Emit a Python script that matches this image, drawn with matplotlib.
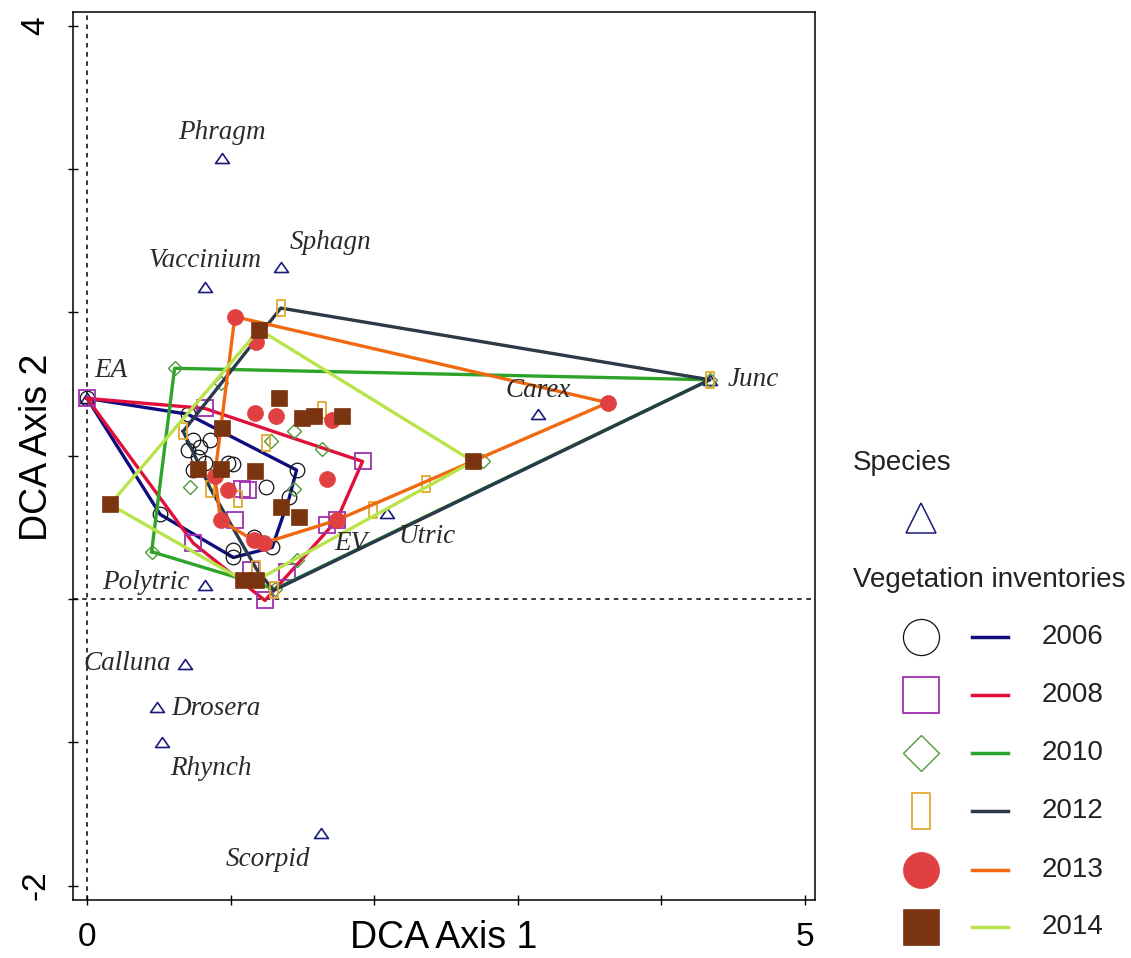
import numpy as np
import matplotlib
matplotlib.use("Agg")
import matplotlib.pyplot as plt
from matplotlib.path import Path

# ---------------------------------------------------------------- data
species_names = ["Phragm", "Sphagn", "Vaccinium", "EA", "Junc", "Carex", "Utric",
                 "EV", "Polytric", "Calluna", "Drosera", "Rhynch", "Scorpid"]
species_x = [0.94, 1.35, 0.82, 0.00, 4.34, 3.14, 2.09, 1.74, 0.82, 0.68, 0.49, 0.52, 1.63]
species_y = [3.08, 2.32, 2.18, 1.40, 1.53, 1.29, 0.60, 0.55, 0.10, -0.45, -0.75, -1.00, -1.63]

years = ["2006", "2008", "2010", "2012", "2013", "2014"]

x_2006 = [0.00, 0.70, 0.74, 0.79, 0.70, 0.77, 0.74, 0.82, 0.86, 0.98, 1.02, 1.25,
          1.46, 1.41, 0.51, 1.16, 1.02, 1.02, 1.29]
y_2006 = [1.40, 1.29, 1.11, 1.06, 1.04, 0.99, 0.90, 0.95, 1.11, 0.95, 0.94, 0.78,
          0.90, 0.71, 0.59, 0.43, 0.34, 0.29, 0.36]

x_2008 = [0.00, 0.82, 1.92, 1.74, 1.67, 1.39, 1.24, 0.74, 1.08, 1.12, 1.03, 1.14]
y_2008 = [1.40, 1.33, 0.96, 0.55, 0.52, 0.19, -0.01, 0.39, 0.77, 0.76, 0.55, 0.20]

x_2010 = [0.61, 4.34, 1.31, 0.45, 0.93, 1.44, 1.64, 1.28, 0.72, 1.44, 1.46, 2.76]
y_2010 = [1.61, 1.53, 0.07, 0.33, 1.51, 1.17, 1.05, 1.10, 0.78, 0.77, 0.27, 0.96]

x_2012 = [1.35, 4.34, 1.30, 1.18, 0.67, 0.86, 1.25, 1.05, 1.64, 1.99, 2.36]
y_2012 = [2.03, 1.53, 0.06, 0.21, 1.17, 0.77, 1.09, 0.70, 1.32, 0.62, 0.80]

x_2013 = [1.03, 1.18, 3.63, 1.74, 1.23, 1.16, 0.93, 0.89, 0.98, 1.17, 1.32, 1.71, 1.67]
y_2013 = [1.97, 1.79, 1.37, 0.55, 0.39, 0.41, 0.55, 0.86, 0.76, 1.30, 1.28, 1.25, 0.84]

x_2014 = [1.20, 1.34, 0.94, 1.50, 1.58, 1.78, 0.77, 0.93, 1.17, 1.35, 1.48, 1.09,
          1.18, 2.69, 0.16]
y_2014 = [1.88, 1.40, 1.19, 1.26, 1.28, 1.28, 0.91, 0.91, 0.89, 0.64, 0.57, 0.13,
          0.13, 0.96, 0.66]

site_x = [x_2006, x_2008, x_2010, x_2012, x_2013, x_2014]
site_y = [y_2006, y_2008, y_2010, y_2012, y_2013, y_2014]

# ---------------------------------------------------------------- styles
plt.rcParams["font.family"] = ["Liberation Sans", "DejaVu Sans"]

tall_rect = Path([(-0.25, -0.5), (0.25, -0.5), (0.25, 0.5), (-0.25, 0.5), (-0.25, -0.5)],
                 [Path.MOVETO, Path.LINETO, Path.LINETO, Path.LINETO, Path.CLOSEPOLY])
flat_triangle = Path([(-0.5, -0.36), (0.5, -0.36), (0.0, 0.36), (-0.5, -0.36)],
                     [Path.MOVETO, Path.LINETO, Path.LINETO, Path.CLOSEPOLY])

hull_colors = ["#0d0d80", "#e0103a", "#2ea32a", "#2b3a4a", "#f0690f", "#b8e44a"]
marker_styles = [
    dict(marker="o", mfc="none", mec="#111111", mew=0.9, ms=10.5),
    dict(marker="s", mfc="none", mec="#a030b0", mew=1.3, ms=11.5),
    dict(marker="D", mfc="none", mec="#4f9a3a", mew=1.0, ms=7),
    dict(marker=tall_rect, mfc="none", mec="#e0a830", mew=1.3, ms=11),
    dict(marker="o", mfc="#e04040", mec="#e04040", mew=0.5, ms=11.5),
    dict(marker="s", mfc="#7a3510", mec="#7a3510", mew=0.5, ms=12),
]
legend_marker_sizes = [26, 26, 18, 26, 26, 26]

tri_color = "#1a1a7a"
label_color = "#2a2a2a"

# label placement (offset in points, horizontal alignment)
label_offsets = {
    "Phragm": (0, 18, "center"), "Sphagn": (6.5, 17, "left"),
    "Vaccinium": (0, 19, "center"), "EA": (5.5, 20, "left"),
    "Junc": (13, 0, "left"), "Carex": (0, 17, "center"),
    "Utric": (8, -17, "left"), "EV": (-2, -16.5, "left"),
    "Polytric": (-11, 1.5, "right"), "Calluna": (-10, 0, "right"),
    "Drosera": (10, -1.5, "left"), "Rhynch": (6, -18.5, "left"),
    "Scorpid": (-8, -19.5, "right"),
}


def convex_hull(xs, ys):
    pts = sorted(set(zip(xs, ys)))

    def cross(o, a, b):
        return (a[0] - o[0]) * (b[1] - o[1]) - (a[1] - o[1]) * (b[0] - o[0])

    lower, upper = [], []
    for p in pts:
        while len(lower) >= 2 and cross(lower[-2], lower[-1], p) <= 0:
            lower.pop()
        lower.append(p)
    for p in reversed(pts):
        while len(upper) >= 2 and cross(upper[-2], upper[-1], p) <= 0:
            upper.pop()
        upper.append(p)
    hull = lower[:-1] + upper[:-1]
    hull.append(hull[0])
    hx, hy = zip(*hull)
    return np.array(hx), np.array(hy)


# ---------------------------------------------------------------- figure
fig = plt.figure(figsize=(11.31, 9.58), dpi=100)
ax = fig.add_axes([73 / 1131, 1 - 900 / 958, (815 - 73) / 1131, (900 - 12) / 958])
ax.set_xlim(-0.098, 5.073)
ax.set_ylim(-2.10, 4.096)

ax.axvline(0, color="black", lw=1.1, ls=(0, (3, 3)), zorder=1)
ax.axhline(0, color="black", lw=1.1, ls=(0, (3, 3)), zorder=1)

# species
ax.plot(species_x, species_y, ls="none", marker=flat_triangle, ms=10, mfc="white",
        mec=tri_color, mew=1.2, zorder=2)
for name, sx, sy in zip(species_names, species_x, species_y):
    dx, dy, ha = label_offsets[name]
    ax.annotate(name, (sx, sy), xytext=(dx, dy), textcoords="offset points",
                ha=ha, va="center", fontsize=19.5, color=label_color,
                family=["Liberation Serif", "DejaVu Serif"], style="italic", zorder=20)

# sites and their convex hulls
for i, (xs, ys) in enumerate(zip(site_x, site_y)):
    hx, hy = convex_hull(xs, ys)
    ax.plot(hx, hy, color=hull_colors[i], lw=2.4, solid_joinstyle="round",
            zorder=3 + 2 * i)
    ax.plot(xs, ys, ls="none", zorder=4 + 2 * i, **marker_styles[i])

# axes decoration
ax.set_xticks([0, 1, 2, 3, 4, 5], labels=["0", "", "", "", "", "5"])
ax.set_yticks([-2, -1, 0, 1, 2, 3, 4], labels=["-2", "", "", "", "", "", "4"])
ax.tick_params(axis="x", direction="inout", length=7, width=1, pad=12, labelsize=24)
ax.tick_params(axis="y", direction="inout", length=7, width=1, pad=12, labelsize=24)
for lbl in ax.get_yticklabels():
    lbl.set_rotation(90)
    lbl.set_va("center")
for sp in ax.spines.values():
    sp.set_linewidth(1.1)

ax.set_xlabel("DCA Axis 1", fontsize=27)
ax.xaxis.set_label_coords(0.5, -0.043)
ax.xaxis.label.set_va("center")
ax.set_ylabel("DCA Axis 2", fontsize=27)
ax.yaxis.set_label_coords(-0.048, 0.51)
ax.yaxis.label.set_va("center")

# ---------------------------------------------------------------- legend
lax = fig.add_axes([0, 0, 1, 1], zorder=10)
lax.set_xlim(0, 1131)
lax.set_ylim(958, 0)
lax.axis("off")

lax.text(853, 463, "Species", ha="left", va="center", fontsize=20, color="#222222")
lax.plot([921], [518], ls="none", marker="^", ms=21, mfc="none", mec=tri_color, mew=1.1)
lax.text(853, 580, "Vegetation inventories", ha="left", va="center", fontsize=20,
         color="#222222")

row_y = [637, 695, 753, 811, 870, 927]
for i, yr in enumerate(years):
    style = dict(marker_styles[i])
    style["ms"] = legend_marker_sizes[i]
    lax.plot([921], [row_y[i]], ls="none", **style)
    lax.plot([972, 1008], [row_y[i], row_y[i]], color=hull_colors[i], lw=2.5)
    lax.text(1042, row_y[i], yr, ha="left", va="center", fontsize=20, color="#222222")

fig.savefig("out.png", dpi=100)
